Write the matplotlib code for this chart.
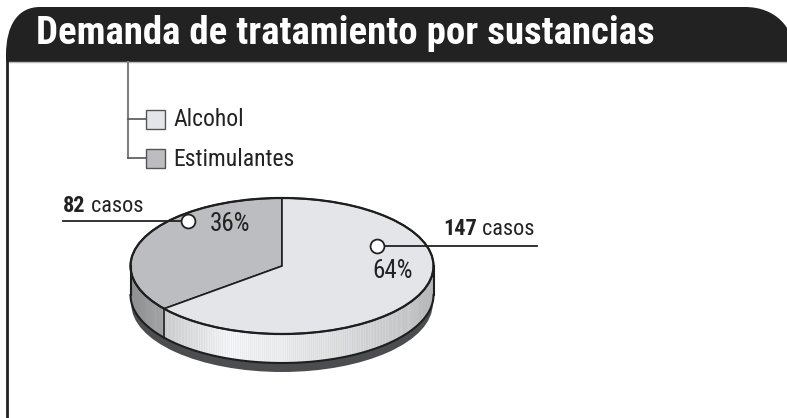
import numpy as np
import matplotlib
matplotlib.use("Agg")
import matplotlib.pyplot as plt
from matplotlib.path import Path
from matplotlib.patches import PathPatch, Rectangle, Ellipse, Polygon
from matplotlib import font_manager

# ── Data ──
categories = ["Estimulantes", "Alcohol"]
cases = [82, 147]
pct_labels = ["36%", "64%"]
legend_order = ["Alcohol", "Estimulantes"]
title = "Demanda de tratamiento por sustancias"

top_colors = {"Alcohol": "#e4e5e8", "Estimulantes": "#bcbdc0"}
side_dim = {"Alcohol": 1.0, "Estimulantes": 0.80}

# look for a condensed sans (the original uses a condensed grotesque)
narrow = [f for f in font_manager.fontManager.ttflist
          if "Condensed" in f.name or "Narrow" in f.name
          or str(f.stretch) in ("condensed", "semi-condensed", "extra-condensed")]
pref = ["Roboto Condensed", "Liberation Sans Narrow", "Open Sans Condensed", "DejaVu Sans"]
picked = None
for p in pref:
    if any(f.name == p for f in narrow):
        picked = p
        break
if picked is None and narrow:
    picked = narrow[0].name
FONT = [picked, "DejaVu Sans"] if picked else ["Liberation Sans", "DejaVu Sans"]
plt.rcParams["font.family"] = FONT
plt.rcParams["font.stretch"] = "condensed"

W, H = 787, 418
fig = plt.figure(figsize=(W / 100, H / 100), dpi=100)

# pixel-space axes for frame + legend
ax_bg = fig.add_axes([0, 0, 1, 1], zorder=1)
ax_bg.set_xlim(0, W)
ax_bg.set_ylim(H, 0)
ax_bg.axis("off")

# header band with rounded top corners
verts = [(6, 62), (6, 55), (6, 25), (18, 7), (40, 7), (745, 7), (775, 7), (795, 27),
         (795, 57), (795, 62), (6, 62)]
codes = [Path.MOVETO, Path.LINETO, Path.CURVE4, Path.CURVE4, Path.CURVE4, Path.LINETO,
         Path.CURVE4, Path.CURVE4, Path.CURVE4, Path.LINETO, Path.CLOSEPOLY]
ax_bg.add_patch(PathPatch(Path(verts, codes), facecolor="#222222", edgecolor="none"))
ax_bg.plot([7, W], [62, 62], color="#bbbbbb", lw=1)
ax_bg.plot([7, 7], [62, H], color="#222222", lw=2)
ax_bg.text(36, 34, title, color="white", fontsize=28, fontweight="bold",
           ha="left", va="center")

# legend with connector lines
ax_bg.plot([128, 128], [62, 158], color="#808080", lw=1.5)
for i, name in enumerate(legend_order):
    y = 119 + 39 * i
    ax_bg.plot([128, 146], [y, y], color="#555555", lw=1.2)
    ax_bg.add_patch(Rectangle((146, y - 9), 19, 19, facecolor=top_colors[name],
                              edgecolor="#555555", lw=1))
    ax_bg.text(173, y + 1, name, fontsize=17, color="#222222", ha="left", va="center")

# ── 3D pie ──
cx, cy, rx, ry = 282, 266, 151.5, 68
depth = 29 / ry
shadow = 38 / ry
ax_pie = fig.add_axes([0, 0, 1, 1], zorder=2)
ax_pie.patch.set_alpha(0)
wedges, _ = ax_pie.pie(cases, colors=[top_colors[c] for c in categories], startangle=90,
                       counterclock=True, radius=1, center=(0, 0),
                       wedgeprops=dict(edgecolor="#1e1e1e", linewidth=1.2))
for w in wedges:
    w.set_zorder(3)
ax_pie.set_aspect("auto")
ax_pie.set_xlim((0 - cx) / rx, (W - cx) / rx)
ax_pie.set_ylim((cy - H) / ry, cy / ry)
ax_pie.axis("off")

fracs = np.array(cases) / np.sum(cases)
starts = 90 + np.concatenate([[0], np.cumsum(fracs)[:-1]]) * 360
spans = fracs * 360


def slice_at(t):
    for name, s, sp in zip(categories, starts, spans):
        if (t - s) % 360 < sp:
            return name
    return categories[-1]


# shadow under the disc
ax_pie.add_patch(Ellipse((0, -shadow), 2 * 0.995, 2, facecolor="#4b4d50", edgecolor="none", zorder=1))

# shaded side band
ts = np.linspace(180, 360, 241)
for t1, t2 in zip(ts[:-1], ts[1:]):
    xm = np.cos(np.radians((t1 + t2) / 2))
    sh = np.interp(xm, [-1, -0.85, -0.34, 0.3, 0.85, 1], [0.70, 0.80, 0.98, 0.90, 0.80, 0.72])
    sh *= side_dim[slice_at((t1 + t2) / 2)]
    col = (sh * 0.985, sh * 0.99, sh * 1.0)
    a, b = np.radians(t1), np.radians(t2)
    pts = [(np.cos(a), np.sin(a)), (np.cos(b), np.sin(b)),
           (np.cos(b), np.sin(b) - depth), (np.cos(a), np.sin(a) - depth)]
    ax_pie.add_patch(Polygon(pts, closed=True, facecolor=col, edgecolor=col, lw=0.4, zorder=2))

tt = np.radians(ts)
ax_pie.plot(np.cos(tt), np.sin(tt) - depth, color="#1e1e1e", lw=1.5, zorder=4)
ax_pie.plot([-1, -1], [0, -depth], color="#1e1e1e", lw=1.5, zorder=4)
ax_pie.plot([1, 1], [0, -depth], color="#1e1e1e", lw=1.5, zorder=4)
for s in starts:
    if 180 < s % 360 < 360:
        a = np.radians(s)
        ax_pie.plot([np.cos(a)] * 2, [np.sin(a), np.sin(a) - depth], color="#1e1e1e", lw=1.2, zorder=4)
ax_pie.add_patch(Ellipse((0, 0), 2, 2, fill=False, edgecolor="#1e1e1e", lw=1.6, zorder=4))

# ── labels ──
ax_top = fig.add_axes([0, 0, 1, 1], zorder=3)
ax_top.set_xlim(0, W)
ax_top.set_ylim(H, 0)
ax_top.axis("off")

label_pos = {
    "Estimulantes": dict(txt=(63, 212), line=((63, 188), (221, 221)), dot=(188, 221),
                         pct=(210, 231), pct_ha="left"),
    "Alcohol": dict(txt=(443, 235), line=((377, 537), (246, 246)), dot=(377, 246),
                    pct=(393, 278), pct_ha="center"),
}
for name, n, pct in zip(categories, cases, pct_labels):
    p = label_pos[name]
    ax_top.plot(*p["line"], color="#222222", lw=1.3)
    ax_top.plot(*p["dot"], marker="o", ms=10, mfc="white", mec="#222222", mew=1.3)
    t = ax_top.text(*p["txt"], str(n), fontsize=16, fontweight="bold", color="#222222",
                    ha="left", va="baseline")
    ax_top.annotate(" casos", xy=(1, 0), xycoords=t, fontsize=16, color="#222222",
                    ha="left", va="bottom")
    ax_top.text(*p["pct"], pct, fontsize=18, color="#222222", ha=p["pct_ha"], va="baseline")

fig.savefig("out.png", dpi=100)
